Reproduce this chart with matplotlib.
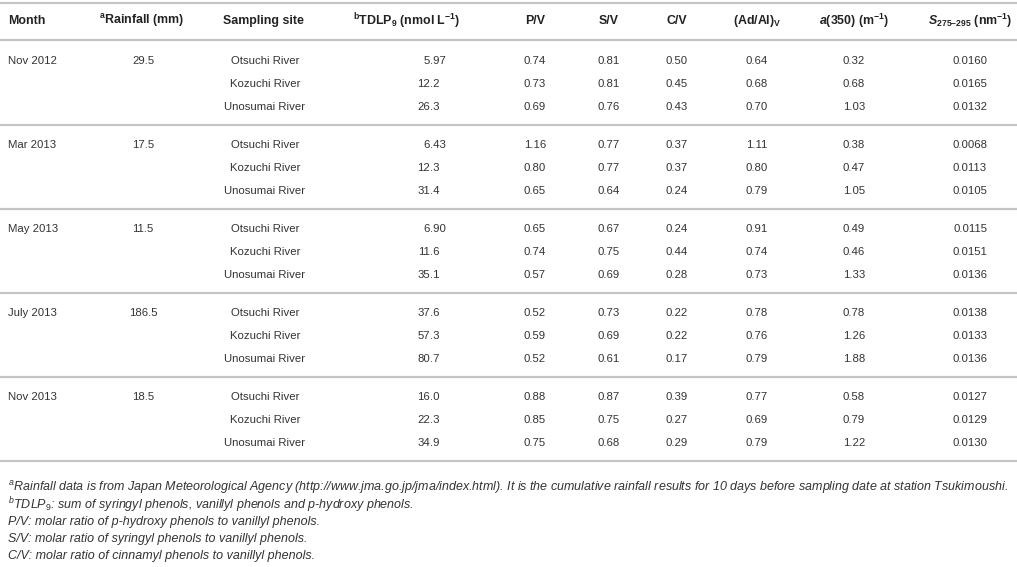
import matplotlib
matplotlib.use("Agg")
import matplotlib.pyplot as plt

# table content
months = ["Nov 2012", "Mar 2013", "May 2013", "July 2013", "Nov 2013"]
rainfall = ["29.5", "17.5", "11.5", "186.5", "18.5"]
sites = ["Otsuchi River", "Kozuchi River", "Unosumai River"]
tdlp = [["5.97", "12.2", "26.3"], ["6.43", "12.3", "31.4"], ["6.90", "11.6", "35.1"],
        ["37.6", "57.3", "80.7"], ["16.0", "22.3", "34.9"]]
pv = [["0.74", "0.73", "0.69"], ["1.16", "0.80", "0.65"], ["0.65", "0.74", "0.57"],
      ["0.52", "0.59", "0.52"], ["0.88", "0.85", "0.75"]]
sv = [["0.81", "0.81", "0.76"], ["0.77", "0.77", "0.64"], ["0.67", "0.75", "0.69"],
      ["0.73", "0.69", "0.61"], ["0.87", "0.75", "0.68"]]
cv = [["0.50", "0.45", "0.43"], ["0.37", "0.37", "0.24"], ["0.24", "0.44", "0.28"],
      ["0.22", "0.22", "0.17"], ["0.39", "0.27", "0.29"]]
adal = [["0.64", "0.68", "0.70"], ["1.11", "0.80", "0.79"], ["0.91", "0.74", "0.73"],
        ["0.78", "0.76", "0.79"], ["0.77", "0.69", "0.79"]]
a350 = [["0.32", "0.68", "1.03"], ["0.38", "0.47", "1.05"], ["0.49", "0.46", "1.33"],
        ["0.78", "1.26", "1.88"], ["0.58", "0.79", "1.22"]]
s275 = [["0.0160", "0.0165", "0.0132"], ["0.0068", "0.0113", "0.0105"],
        ["0.0115", "0.0151", "0.0136"], ["0.0138", "0.0133", "0.0136"],
        ["0.0127", "0.0129", "0.0130"]]

headers = [r"Month", r"$^{\mathbf{a}}$Rainfall (mm)", r"Sampling site",
           r"$^{\mathbf{b}}$TDLP$_{\mathbf{9}}$ (nmol L$^{\mathbf{-1}}$)",
           r"P/V", r"S/V", r"C/V", r"(Ad/Al)$_{\mathbf{V}}$",
           r"$\mathbfit{a}$(350) (m$^{\mathbf{-1}}$)",
           "$\\mathbfit{S}_{\\mathbf{275\u2013295}}$ (nm$^{\\mathbf{-1}}$)"]

footnotes = [
    r"$^{a}$Rainfall data is from Japan Meteorological Agency (http://www.jma.go.jp/jma/index.html). "
    r"It is the cumulative rainfall results for 10 days before sampling date at station Tsukimoushi.",
    r"$^{b}$TDLP$_{9}$: sum of syringyl phenols, vanillyl phenols and p-hydroxy phenols.",
    "P/V: molar ratio of p-hydroxy phenols to vanillyl phenols.",
    "S/V: molar ratio of syringyl phenols to vanillyl phenols.",
    "C/V: molar ratio of cinnamyl phenols to vanillyl phenols.",
]

plt.rcParams["font.family"] = ["Liberation Sans", "DejaVu Sans"]
plt.rcParams["mathtext.fontset"] = "custom"
plt.rcParams["mathtext.rm"] = "Liberation Sans"
plt.rcParams["mathtext.it"] = "Liberation Sans:italic"
plt.rcParams["mathtext.bf"] = "Liberation Sans:bold"
plt.rcParams["mathtext.bfit"] = "Liberation Sans:italic:bold"

W, H = 1017, 567
fig = plt.figure(figsize=(W / 100, H / 100), dpi=100)
ax = fig.add_axes([0, 0, 1, 1])
ax.set_xlim(0, W)
ax.set_ylim(H, 0)
ax.axis("off")

txt = "#333333"
rule = "#c4c4c4"
fs = 8.2
hfs = 8.9

# column x positions and alignment
hx = [8, 142, 263, 407, 535, 609, 677, 757, 854, 1012]
hha = ["left", "center", "center", "center", "center", "center", "center", "center", "center", "right"]

header_y = 21
for x, ha, h in zip(hx, hha, headers):
    ax.text(x, header_y, h, ha=ha, va="center", fontsize=hfs, fontweight="bold", color="#222222")

ax.axhline(3, color=rule, lw=1.6)
ax.axhline(40, color=rule, lw=1.6)

first_row = 61
row_step = 23
group_step = 84
vx = [535, 609, 677, 757, 854, 970]

for g in range(len(months)):
    y0 = first_row + g * group_step
    ax.text(8, y0, months[g], ha="left", va="center", fontsize=fs, color=txt)
    ax.text(143, y0, rainfall[g], ha="center", va="center", fontsize=fs, color=txt)
    for r in range(len(sites)):
        y = y0 + r * row_step
        ax.text(265, y, sites[r], ha="center", va="center", fontsize=fs, color=txt)
        # TDLP aligned on decimal point
        whole, frac = tdlp[g][r].split(".")
        ax.text(430, y, whole, ha="right", va="center", fontsize=fs, color=txt)
        ax.text(430, y, "." + frac, ha="left", va="center", fontsize=fs, color=txt)
        for x, col in zip(vx, [pv, sv, cv, adal, a350, s275]):
            ax.text(x, y, col[g][r], ha="center", va="center", fontsize=fs, color=txt)
    ax.axhline(y0 + group_step - 20, color=rule, lw=1.6)

# footnotes: size the first line so it fills the width like the reference
fig.canvas.draw()
renderer = fig.canvas.get_renderer()
probe = ax.text(8, 0, footnotes[0], fontsize=10, style="italic")
width = probe.get_window_extent(renderer).width
probe.remove()
ffs = 10 * 1004 / width

fn_y = 488
for i, f in enumerate(footnotes):
    ax.text(8, fn_y + i * 17, f, ha="left", va="center", fontsize=ffs, style="italic",
            color=txt)

fig.savefig("out.png", dpi=100)
